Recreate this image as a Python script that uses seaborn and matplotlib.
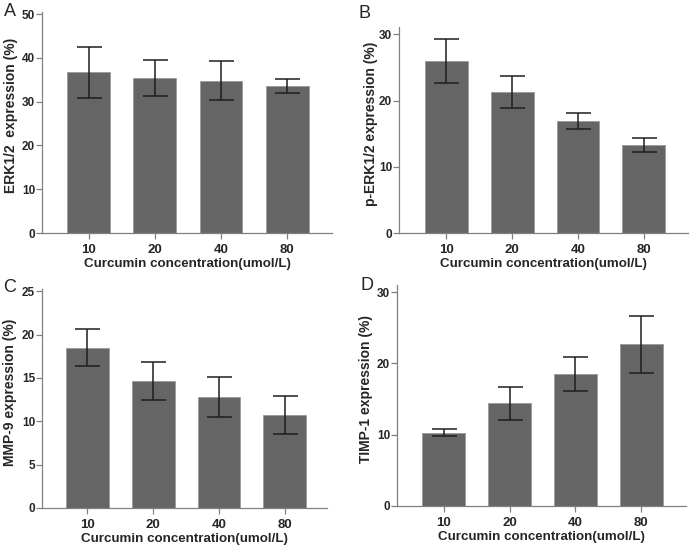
import numpy as np
import pandas as pd
import matplotlib
matplotlib.use('Agg')
import matplotlib.pyplot as plt
import seaborn as sns

sns.set_style('white')
plt.rcParams['font.family'] = ['Liberation Sans', 'DejaVu Sans']

concentrations = ['10', '20', '40', '80']

erk_mean = [36.7, 35.4, 34.8, 33.6]
erk_err = [5.8, 4.1, 4.5, 1.6]

perk_mean = [26.0, 21.3, 16.9, 13.3]
perk_err = [3.3, 2.4, 1.25, 1.1]

mmp_mean = [18.5, 14.65, 12.8, 10.75]
mmp_err = [2.1, 2.15, 2.35, 2.2]

timp_mean = [10.3, 14.4, 18.55, 22.7]
timp_err = [0.5, 2.35, 2.4, 4.0]

panels = [
    ('A', 'ERK1/2  expression (%)', erk_mean, erk_err, [0, 10, 20, 30, 40, 50]),
    ('B', 'p-ERK1/2 expression (%)', perk_mean, perk_err, [0, 10, 20, 30]),
    ('C', 'MMP-9 expression (%)', mmp_mean, mmp_err, [0, 5, 10, 15, 20, 25]),
    ('D', 'TIMP-1 expression (%)', timp_mean, timp_err, [0, 10, 20, 30]),
]

W, H = 696, 547
# left, right, top, bottom (px), y max, x limits, letter pos (px), ylabel offset (px)
boxes = [
    (42, 332, 12, 233, 50.5, (-0.71, 3.68), (10, 12), 30),
    (399, 688, 27, 233, 31.1, (-0.72, 3.67), (364, 13), 27),
    (42, 327, 289, 508, 25.25, (-0.69, 3.64), (10, 288), 31),
    (397, 686, 285, 506, 31.0, (-0.71, 3.68), (367, 286), 30),
]

fig = plt.figure(figsize=(W / 100, H / 100), dpi=100)
axis_grey = '#808080'

for (letter, ylabel, mean, err, yticks), (l, r, t, b, ymax, xl, lpos, yoff) in zip(panels, boxes):
    ax = fig.add_axes([l / W, 1 - b / H, (r - l) / W, (b - t) / H])
    df = pd.DataFrame({'conc': concentrations, 'value': mean})
    sns.barplot(data=df, x='conc', y='value', color='#656565', saturation=1,
                width=0.65, edgecolor='#9a9a9a', linewidth=0.6, errorbar=None, ax=ax)
    ax.errorbar(np.arange(len(mean)), mean, yerr=err, fmt='none', ecolor='#1e1e1e',
                elinewidth=1.1, capsize=9, capthick=1.1)
    ax.set_ylim(0, ymax)
    ax.set_xlim(*xl)
    ax.set_yticks(yticks)
    ax.set_xlabel('Curcumin concentration(umol/L)', fontsize=9.6, fontweight='bold', labelpad=1.5)
    ax.set_ylabel(ylabel, fontsize=10, fontweight='bold')
    ax.yaxis.set_label_coords(-(yoff - 6) / (r - l), 0.53)
    for s in ['top', 'right']:
        ax.spines[s].set_visible(False)
    for s in ['left', 'bottom']:
        ax.spines[s].set_color(axis_grey)
        ax.spines[s].set_linewidth(0.9)
    ax.tick_params(axis='y', direction='out', length=4.5, width=0.9, color=axis_grey,
                   labelsize=8.5, pad=0.5, left=True)
    ax.tick_params(axis='x', direction='out', length=4.5, width=0.9, color=axis_grey,
                   labelsize=9.5, pad=3.5, bottom=True)
    for lab in ax.get_xticklabels() + ax.get_yticklabels():
        lab.set_fontweight('bold')
    fig.text(lpos[0] / W, 1 - lpos[1] / H, letter, fontsize=13, ha='center', va='center')

fig.savefig('out.png', dpi=100)
